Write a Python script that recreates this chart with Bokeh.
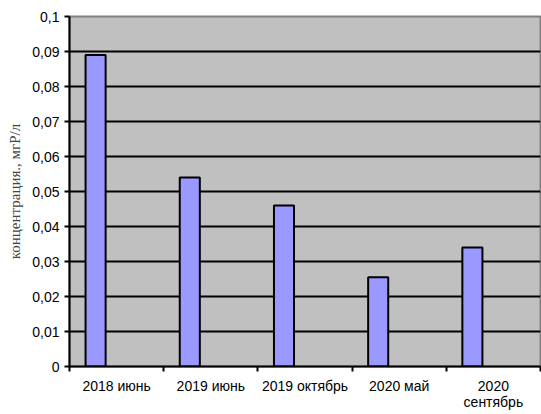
from bokeh.plotting import figure
from bokeh.models import Range1d, FixedTicker, CustomJSTickFormatter, ColumnDataSource
from bokeh.embed import file_html
from bokeh.resources import INLINE

# Measurements of concentration per sampling campaign
periods = ["2018 июнь", "2019 июнь", "2019 октябрь", "2020 май", "2020\nсентябрь"]
concentration = [0.089, 0.054, 0.046, 0.0255, 0.034]
y_ticks = [0, 0.01, 0.02, 0.03, 0.04, 0.05, 0.06, 0.07, 0.08, 0.09, 0.1]

# Bars sit in the left part of each category slot
bar_offset = 0.277
bar_width = 0.213
xs = [i + bar_offset for i in range(len(periods))]

src = ColumnDataSource(data=dict(x=xs, top=concentration))

p = figure(
    width=541, height=414,
    output_backend="svg", toolbar_location=None,
    x_range=Range1d(0, len(periods)), y_range=Range1d(0, 0.1),
    min_border_left=69, min_border_right=1, min_border_top=16, min_border_bottom=48,
    background_fill_color="#C0C0C0", border_fill_color="white",
)
p.outline_line_color = "#808080"
p.outline_line_width = 2

p.vbar(x="x", top="top", width=bar_width, bottom=0, source=src,
       fill_color="#9999FF", line_color="black", line_width=2)

# Y axis
p.yaxis.ticker = FixedTicker(ticks=y_ticks, minor_ticks=[])
p.yaxis.formatter = CustomJSTickFormatter(
    code="var s = (Math.round(tick*100)/100).toString(); return s.replace('.', ',');")
p.yaxis.axis_line_color = "black"
p.yaxis.axis_line_width = 2
p.yaxis.major_tick_line_color = "black"
p.yaxis.major_tick_line_width = 2
p.yaxis.major_tick_out = 5
p.yaxis.major_tick_in = 0
p.yaxis.major_label_standoff = 5
p.yaxis.major_label_text_font = "Liberation Sans"
p.yaxis.major_label_text_font_size = "14px"
p.yaxis.major_label_text_color = "black"
p.yaxis.axis_label = "концентрация., мгР/л"
p.yaxis.axis_label_text_font = "Liberation Serif"
p.yaxis.axis_label_text_font_size = "15px"
p.yaxis.axis_label_text_font_style = "normal"
p.yaxis.axis_label_standoff = 6

# X axis: labels at slot centres, ticks at slot boundaries
p.xaxis.ticker = FixedTicker(ticks=[i + 0.5 for i in range(len(periods))],
                             minor_ticks=list(range(len(periods) + 1)))
p.xaxis.formatter = CustomJSTickFormatter(args=dict(labels=periods),
                                          code="return labels[Math.floor(tick)];")
p.xaxis.axis_line_color = "black"
p.xaxis.axis_line_width = 2
p.xaxis.major_tick_line_color = None
p.xaxis.major_tick_out = 0
p.xaxis.major_tick_in = 0
p.xaxis.minor_tick_line_color = "black"
p.xaxis.minor_tick_line_width = 2
p.xaxis.minor_tick_out = 5
p.xaxis.minor_tick_in = 0
p.xaxis.major_label_standoff = 6
p.xaxis.major_label_text_font = "Liberation Sans"
p.xaxis.major_label_text_font_size = "14px"
p.xaxis.major_label_text_line_height = 1.05
p.xaxis.major_label_text_color = "black"

# Grid
p.xgrid.grid_line_color = None
p.ygrid.grid_line_color = "black"
p.ygrid.grid_line_width = 2

open("out.html", "w").write(file_html(p, INLINE))
